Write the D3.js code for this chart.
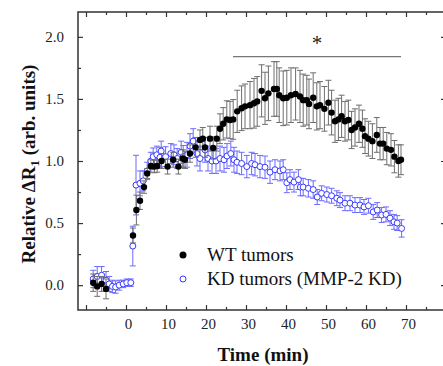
<!DOCTYPE html>
<html>
<head>
<meta charset="utf-8">
<script src="https://cdn.jsdelivr.net/npm/d3@7"></script>
<style>
  body { margin: 0; background: #fff; }
  svg, svg text { font-family: "Liberation Serif", "Tinos", "Times New Roman", "DejaVu Serif", serif !important; }
</style>
</head>
<body>
<div id="chart"></div>
<script>
// WT tumors (filled black)
const wtTime = [-8.2, -7.2, -6.1, -5.0,
  1.75, 2.6, 3.5, 4.5, 5.3, 6.2, 7.1, 7.8, 8.9, 10.4, 11.8, 13.1, 14.2, 14.75, 16.0, 17.4,
  18.5, 19.2, 19.75, 21.0, 21.8, 22.7, 23.5, 24.3, 25.2, 26.0, 26.8, 27.8, 28.9, 29.75, 31.0,
  32.0, 32.8, 33.9, 34.75, 35.6, 37.0, 37.7, 38.3, 39.3, 40.2, 41.25, 42.4, 43.5, 44.3, 45.2,
  45.75, 46.8, 47.7, 48.5, 49.6, 50.6, 51.4, 52.25, 53.1, 53.9, 54.75, 55.6, 56.4, 57.25, 58.25,
  59.1, 59.75, 60.6, 61.6, 62.7, 63.5, 64.3, 65.2, 66.25, 67.1, 68.1, 68.75];
const wtValue = [0.02, -0.01, 0.01, -0.03,
  0.40, 0.605, 0.68, 0.79, 0.90, 0.96, 0.955, 0.96, 1.00, 0.955, 1.01, 0.955, 1.02, 1.01, 1.06, 1.11,
  1.17, 1.18, 1.11, 1.18, 1.105, 1.18, 1.26, 1.30, 1.335, 1.33, 1.335, 1.40, 1.425, 1.44, 1.45,
  1.465, 1.48, 1.565, 1.505, 1.545, 1.58, 1.58, 1.53, 1.505, 1.51, 1.53, 1.54, 1.52, 1.49, 1.49,
  1.46, 1.51, 1.44, 1.45, 1.42, 1.47, 1.39, 1.32, 1.335, 1.36, 1.32, 1.33, 1.25, 1.27, 1.30,
  1.26, 1.20, 1.18, 1.16, 1.21, 1.14, 1.14, 1.10, 1.09, 1.035, 1.00, 1.01];
const wtError = [0.07, 0.08, 0.06, 0.08,
  0.06, 0.12, 0.07, 0.05, 0.04, 0.05, 0.05, 0.05, 0.06, 0.06, 0.06, 0.06, 0.07, 0.07, 0.07, 0.08,
  0.08, 0.09, 0.08, 0.10, 0.09, 0.10, 0.12, 0.13, 0.15, 0.15, 0.16, 0.17, 0.18, 0.18, 0.19,
  0.20, 0.20, 0.21, 0.21, 0.22, 0.22, 0.22, 0.22, 0.22, 0.22, 0.22, 0.21, 0.21, 0.21, 0.20,
  0.20, 0.20, 0.19, 0.19, 0.18, 0.18, 0.18, 0.17, 0.17, 0.17, 0.16, 0.16, 0.15, 0.15, 0.15,
  0.15, 0.14, 0.14, 0.14, 0.14, 0.13, 0.13, 0.13, 0.13, 0.13, 0.13, 0.12];

// KD tumors (MMP-2 KD) (open blue)
const kdTime = [-8.2, -7.2, -6.1, -5.0, -4.2, -3.4, -2.6, -1.7, -0.7, 0.2, 1.2,
  1.7, 2.5, 3.5, 4.3, 5.3, 6.2, 6.8, 7.7, 8.5, 8.8, 9.9, 11.2, 12.0, 12.8, 13.8, 14.3, 15.25,
  16.0, 16.8, 17.75, 18.5, 19.75, 20.5, 21.5, 22.5, 23.5, 24.5, 25.25, 26.2, 27.0, 27.75, 28.9,
  30.2, 31.4, 32.25, 33.5, 34.75, 36.0, 37.25, 38.5, 39.3, 40.2, 41.0, 42.0, 43.1, 43.6, 44.3,
  45.6, 46.8, 47.8, 48.9, 50.2, 51.4, 52.7, 53.5, 54.75, 56.0, 57.25, 58.5, 59.5, 60.6, 61.8,
  62.8, 63.9, 65.0, 66.0, 67.0, 67.8, 68.9];
const kdValue = [0.05, 0.07, 0.08, 0.04, 0.01, -0.01, -0.015, 0.0, 0.01, 0.02, 0.02,
  0.315, 0.806, 0.82, 0.84, 0.92, 1.00, 1.035, 1.05, 1.03, 1.08, 1.035, 1.06, 1.05, 1.02, 1.07, 1.035, 1.05,
  1.12, 1.16, 1.06, 1.02, 1.09, 1.02, 1.00, 1.00, 1.02, 1.01, 1.04, 1.06, 1.01, 0.99, 0.98,
  0.955, 0.98, 0.97, 0.955, 0.95, 0.91, 0.93, 0.92, 0.93, 0.825, 0.85, 0.83, 0.85, 0.79, 0.79,
  0.78, 0.77, 0.71, 0.74, 0.73, 0.72, 0.70, 0.685, 0.66, 0.66, 0.645, 0.645, 0.63, 0.64, 0.59,
  0.605, 0.565, 0.57, 0.54, 0.51, 0.50, 0.457];
const kdError = [0.07, 0.08, 0.07, 0.07, 0.06, 0.05, 0.05, 0.04, 0.03, 0.03, 0.03,
  0.16, 0.24, 0.10, 0.08, 0.07, 0.07, 0.07, 0.07, 0.08, 0.08, 0.08, 0.08, 0.08, 0.08, 0.09, 0.09, 0.10,
  0.10, 0.10, 0.10, 0.10, 0.10, 0.10, 0.10, 0.10, 0.10, 0.10, 0.10, 0.10, 0.10, 0.09, 0.09,
  0.09, 0.09, 0.09, 0.09, 0.09, 0.09, 0.08, 0.08, 0.08, 0.08, 0.08, 0.08, 0.08, 0.07, 0.07,
  0.07, 0.07, 0.06, 0.06, 0.06, 0.06, 0.06, 0.06, 0.06, 0.06, 0.06, 0.06, 0.06, 0.06, 0.06,
  0.06, 0.06, 0.06, 0.06, 0.06, 0.06, 0.07];

// significance bracket (time range and level)
const sigTime = [26.75, 68.75];
const sigLevel = 1.84;

const xMajorTicks = [-10, 0, 10, 20, 30, 40, 50, 60, 70, 80];
const xMinorTicks = [-5, 5, 15, 25, 35, 45, 55, 65, 75];
const xTickLabels = ["", "0", "10", "20", "30", "40", "50", "60", "70", ""];
const yMajorTicks = [0, 0.5, 1.0, 1.5, 2.0];
const yMinorTicks = [0.25, 0.75, 1.25, 1.75];
const yTickLabels = ["0.0", "0.5", "1.0", "1.5", "2.0"];

const legendLabels = ["WT tumors", "KD tumors (MMP-2 KD)"];

const width = 443, height = 366;
const plot = { left: 78, right: 446, top: 12, bottom: 310 };
const serif = '"Liberation Serif", "Tinos", "Times New Roman", "DejaVu Serif", serif';

const svg = d3.select("#chart")
  .append("svg")
  .attr("width", width)
  .attr("height", height)
  .attr("font-family", serif);

const x = d3.scaleLinear().domain([-12, 80]).range([plot.left, plot.right]);
const y = d3.scaleLinear().domain([-0.2, 2.2]).range([plot.bottom, plot.top]);

const axisColor = "#333";

function styleAxis(g) {
  g.attr("font-family", serif);
  g.select(".domain").remove();
  g.selectAll(".tick line").attr("stroke", axisColor).attr("stroke-width", 1.2);
  g.selectAll(".tick text")
    .attr("fill", "#222")
    .attr("font-size", 15)
    .attr("font-family", serif);
}

// bottom axis (major + minor, inward ticks)
svg.append("g")
  .attr("transform", "translate(0," + plot.bottom + ")")
  .call(d3.axisBottom(x).tickValues(xMajorTicks).tickSizeInner(-5).tickSizeOuter(0).tickPadding(8)
    .tickFormat((d, i) => xTickLabels[i]))
  .call(styleAxis)
  .selectAll(".tick text").attr("dx", 2);
svg.append("g")
  .attr("transform", "translate(0," + plot.bottom + ")")
  .call(d3.axisBottom(x).tickValues(xMinorTicks).tickSizeInner(-3).tickSizeOuter(0).tickFormat(""))
  .call(styleAxis);

// top axis
svg.append("g")
  .attr("transform", "translate(0," + plot.top + ")")
  .call(d3.axisTop(x).tickValues(xMajorTicks).tickSizeInner(-5).tickSizeOuter(0).tickFormat(""))
  .call(styleAxis);
svg.append("g")
  .attr("transform", "translate(0," + plot.top + ")")
  .call(d3.axisTop(x).tickValues(xMinorTicks).tickSizeInner(-3).tickSizeOuter(0).tickFormat(""))
  .call(styleAxis);

// left axis
svg.append("g")
  .attr("transform", "translate(" + plot.left + ",0)")
  .call(d3.axisLeft(y).tickValues(yMajorTicks).tickSizeInner(-5).tickSizeOuter(0).tickPadding(14)
    .tickFormat((d, i) => yTickLabels[i]))
  .call(styleAxis);
svg.append("g")
  .attr("transform", "translate(" + plot.left + ",0)")
  .call(d3.axisLeft(y).tickValues(yMinorTicks).tickSizeInner(-3).tickSizeOuter(0).tickFormat(""))
  .call(styleAxis);

// right axis
svg.append("g")
  .attr("transform", "translate(" + plot.right + ",0)")
  .call(d3.axisRight(y).tickValues(yMajorTicks).tickSizeInner(-5).tickSizeOuter(0).tickFormat(""))
  .call(styleAxis);
svg.append("g")
  .attr("transform", "translate(" + plot.right + ",0)")
  .call(d3.axisRight(y).tickValues(yMinorTicks).tickSizeInner(-3).tickSizeOuter(0).tickFormat(""))
  .call(styleAxis);

// frame
svg.append("rect")
  .attr("x", plot.left)
  .attr("y", plot.top)
  .attr("width", plot.right - plot.left)
  .attr("height", plot.bottom - plot.top)
  .attr("fill", "none")
  .attr("stroke", axisColor)
  .attr("stroke-width", 1.5);

// error bars helper
function errorBars(times, values, errors, color) {
  const data = times.map((t, i) => ({ t: t, v: values[i], e: errors[i] }));
  const g = svg.append("g").attr("stroke", color).attr("stroke-width", 1).attr("fill", "none");
  const cap = 3;
  g.selectAll("path")
    .data(data)
    .enter()
    .append("path")
    .attr("d", function (d) {
      const cx = x(d.t), y1 = y(d.v + d.e), y2 = y(d.v - d.e);
      return "M" + cx + "," + y1 + "V" + y2 +
        "M" + (cx - cap) + "," + y1 + "H" + (cx + cap) +
        "M" + (cx - cap) + "," + y2 + "H" + (cx + cap);
    });
  return data;
}

// KD first, WT on top
const kdData = errorBars(kdTime, kdValue, kdError, "#6b6bff");
svg.append("g")
  .selectAll("circle")
  .data(kdData)
  .enter()
  .append("circle")
  .attr("cx", d => x(d.t))
  .attr("cy", d => y(d.v))
  .attr("r", 3)
  .attr("fill", "#fff")
  .attr("stroke", "#3a3aff")
  .attr("stroke-width", 1);

const wtData = errorBars(wtTime, wtValue, wtError, "#6e6e6e");
svg.append("g")
  .selectAll("circle")
  .data(wtData)
  .enter()
  .append("circle")
  .attr("cx", d => x(d.t))
  .attr("cy", d => y(d.v))
  .attr("r", 3.2)
  .attr("fill", "#000");

// significance line + star
svg.append("line")
  .attr("x1", x(sigTime[0]))
  .attr("x2", x(sigTime[1]))
  .attr("y1", y(sigLevel))
  .attr("y2", y(sigLevel))
  .attr("stroke", "#777")
  .attr("stroke-width", 1.3);
svg.append("text")
  .attr("x", x((sigTime[0] + sigTime[1]) / 2))
  .attr("y", 50)
  .attr("text-anchor", "middle")
  .attr("font-size", 21)
  .attr("fill", "#222")
  .text("*");

// legend
const legend = svg.append("g");
legend.append("circle").attr("cx", 183).attr("cy", 255).attr("r", 3.5).attr("fill", "#000");
legend.append("circle").attr("cx", 183).attr("cy", 279).attr("r", 3)
  .attr("fill", "#fff").attr("stroke", "#3a3aff").attr("stroke-width", 1);
legend.selectAll("text.lbl")
  .data(legendLabels)
  .enter()
  .append("text")
  .attr("class", "lbl")
  .attr("x", 207)
  .attr("y", (d, i) => 261 + i * 24)
  .attr("font-size", 19)
  .attr("fill", "#111")
  .text(d => d);

// axis titles
svg.append("text")
  .attr("x", 263)
  .attr("y", 361)
  .attr("text-anchor", "middle")
  .attr("font-size", 19)
  .attr("font-weight", "bold")
  .attr("fill", "#111")
  .text("Time (min)");

const yTitle = svg.append("text")
  .attr("transform", "translate(35,164) rotate(-90)")
  .attr("text-anchor", "middle")
  .attr("font-size", 19)
  .attr("font-weight", "bold")
  .attr("fill", "#111");
yTitle.append("tspan").text("Relative \u0394R");
yTitle.append("tspan").attr("dy", 4).attr("font-size", 13).text("1");
yTitle.append("tspan").attr("dy", -4).text(" (arb. units)");
</script>
</body>
</html>
